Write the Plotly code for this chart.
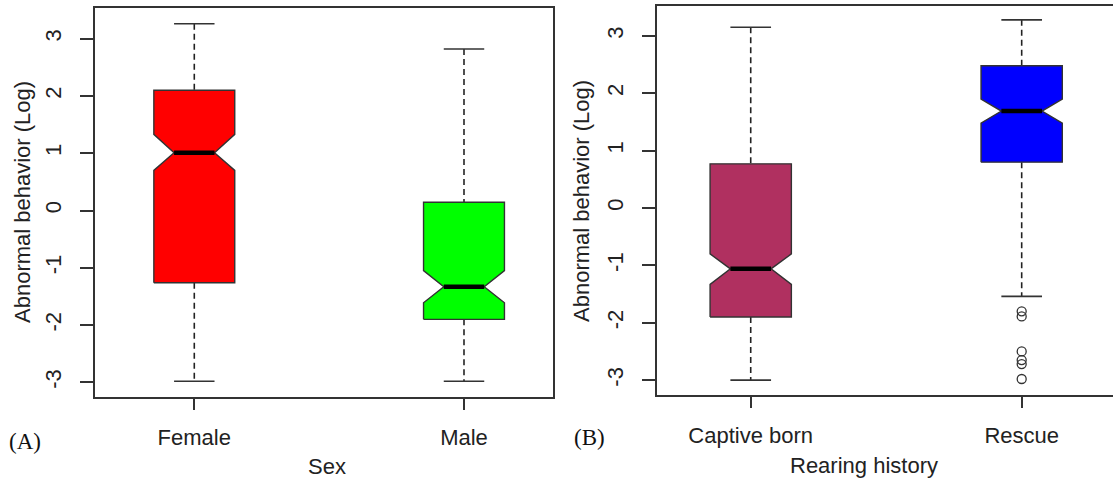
import plotly.graph_objects as go

# ---------------- data ----------------
categories_A = ["Female", "Male"]
A_lower = [-2.98, -2.98]
A_q1 = [-1.26, -1.90]
A_notch_lo = [0.70, -1.61]
A_median = [1.01, -1.33]
A_notch_hi = [1.33, -1.05]
A_q3 = [2.10, 0.145]
A_upper = [3.26, 2.82]
A_outliers = [[], []]

categories_B = ["Captive born", "Rescue"]
B_lower = [-3.00, -1.54]
B_q1 = [-1.90, 0.80]
B_notch_lo = [-1.33, 1.48]
B_median = [-1.06, 1.69]
B_notch_hi = [-0.80, 1.90]
B_q3 = [0.77, 2.48]
B_upper = [3.15, 3.28]
B_outliers = [[], [-1.80, -1.89, -2.50, -2.65, -2.72, -2.98]]

colors_A = ["#FF0000", "#00FF00"]
colors_B = ["#B03060", "#0000FF"]

y_ticks = [-3, -2, -1, 0, 1, 2, 3]
y_ticktext = ["-3", "-2", "-1", "0", "1", "2", "3"]

# ---------------- styling constants ----------------
HALF_W = 0.15      # half box width (x units)
PINCH = HALF_W / 2  # half width at median (notch)
CAP = 0.075        # half staple width
LINE_C = "#333333"
FONT = "Liberation Sans, Arial, sans-serif"
FS = 22

fig = go.Figure()


def add_panel(xa, ya, lower, q1, nlo, med, nhi, q3, upper, outliers, colors):
    for i in range(len(med)):
        c = i + 1
        # whiskers (dashed)
        fig.add_trace(go.Scatter(x=[c, c, None, c, c], y=[upper[i], q3[i], None, q1[i], lower[i]],
                                 mode="lines", line=dict(color="#222222", width=1.6, dash="6px,4px"),
                                 xaxis=xa, yaxis=ya, hoverinfo="skip", showlegend=False))
        # staples
        fig.add_trace(go.Scatter(x=[c - CAP, c + CAP, None, c - CAP, c + CAP],
                                 y=[upper[i], upper[i], None, lower[i], lower[i]],
                                 mode="lines", line=dict(color=LINE_C, width=1.6),
                                 xaxis=xa, yaxis=ya, hoverinfo="skip", showlegend=False))
        # notched box
        px = [c - HALF_W, c - HALF_W, c - PINCH, c - HALF_W, c - HALF_W,
              c + HALF_W, c + HALF_W, c + PINCH, c + HALF_W, c + HALF_W, c - HALF_W]
        py = [q1[i], nlo[i], med[i], nhi[i], q3[i], q3[i], nhi[i], med[i], nlo[i], q1[i], q1[i]]
        fig.add_trace(go.Scatter(x=px, y=py, mode="lines", fill="toself", fillcolor=colors[i],
                                 line=dict(color=LINE_C, width=1.4),
                                 xaxis=xa, yaxis=ya, hoverinfo="skip", showlegend=False))
        # median
        fig.add_trace(go.Scatter(x=[c - PINCH, c + PINCH], y=[med[i], med[i]], mode="lines",
                                 line=dict(color="black", width=4.5),
                                 xaxis=xa, yaxis=ya, hoverinfo="skip", showlegend=False))
        if outliers[i]:
            fig.add_trace(go.Scatter(x=[c] * len(outliers[i]), y=outliers[i], mode="markers",
                                     marker=dict(symbol="circle-open", size=9,
                                                 line=dict(color=LINE_C, width=1.3), color=LINE_C),
                                     xaxis=xa, yaxis=ya, hoverinfo="skip", showlegend=False))


add_panel("x", "y", A_lower, A_q1, A_notch_lo, A_median, A_notch_hi, A_q3, A_upper, A_outliers, colors_A)
add_panel("x2", "y2", B_lower, B_q1, B_notch_lo, B_median, B_notch_hi, B_q3, B_upper, B_outliers, colors_B)

W, H = 1113, 479
tickfont = dict(family=FONT, size=FS, color="#222222")

common_x = dict(showgrid=False, zeroline=False, showline=True, linecolor=LINE_C, linewidth=1.5,
                ticks="outside", ticklen=12, tickwidth=1.5, tickcolor=LINE_C, tickvals=[1, 2],
                tickfont=tickfont, ticklabelstandoff=8)
common_y = dict(showgrid=False, zeroline=False, showline=True, linecolor=LINE_C, linewidth=1.5,
                ticks="outside", ticklen=13, tickwidth=1.5, tickcolor=LINE_C,
                tickvals=y_ticks, ticktext=y_ticktext, tickangle=-90, tickfont=tickfont,
                range=[-3.25, 3.53], ticklabelstandoff=10)

ann_font = dict(family=FONT, size=FS, color="#222222")
serif_font = dict(family="Liberation Serif, Times New Roman, serif", size=23, color="#111111")

fig.update_layout(
    width=W, height=H, margin=dict(l=0, r=0, t=0, b=0),
    paper_bgcolor="white", plot_bgcolor="white",
    font=dict(family=FONT, size=FS, color="#222222"),
    xaxis=dict(common_x, domain=[94.5 / W, 553 / W], range=[0.630, 2.330], ticktext=categories_A,
               mirror=True, anchor="y"),
    yaxis=dict(common_y, domain=[(H - 396.7) / H, (H - 8.3) / H], mirror=True, anchor="x"),
    xaxis2=dict(common_x, domain=[656.7 / W, 1.0], range=[0.653, 2.337], ticktext=categories_B,
                mirror=True, anchor="y2"),
    yaxis2=dict(common_y, domain=[(H - 394.5) / H, (H - 5.5) / H], mirror=False, anchor="x2"),
    annotations=[
        dict(text="Abnormal behavior (Log)", x=23 / W, y=(H - 202) / H, xref="paper", yref="paper",
             textangle=-90, showarrow=False, xanchor="center", yanchor="middle", font=ann_font),
        dict(text="Abnormal behavior (Log)", x=581 / W, y=(H - 201) / H, xref="paper", yref="paper",
             textangle=-90, showarrow=False, xanchor="center", yanchor="middle", font=ann_font),
        dict(text="Sex", x=327 / W, y=(H - 466) / H, xref="paper", yref="paper",
             showarrow=False, xanchor="center", yanchor="middle", font=ann_font),
        dict(text="Rearing history", x=864 / W, y=(H - 465) / H, xref="paper", yref="paper",
             showarrow=False, xanchor="center", yanchor="middle", font=ann_font),
        dict(text="(A)", x=25 / W, y=(H - 441) / H, xref="paper", yref="paper",
             showarrow=False, xanchor="center", yanchor="middle", font=serif_font),
        dict(text="(B)", x=589 / W, y=(H - 437) / H, xref="paper", yref="paper",
             showarrow=False, xanchor="center", yanchor="middle", font=serif_font),
    ],
)

fig.write_html("out.html", config={"displayModeBar": False},
               post_script="document.body.style.margin='0';document.body.style.overflow='hidden';")
